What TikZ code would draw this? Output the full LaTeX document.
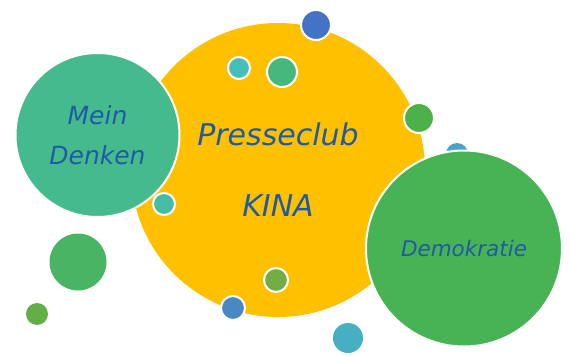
\documentclass[tikz,border=0pt]{standalone}
\usepackage{fontspec}
\newfontfamily\bubblefont{DejaVu Sans}
\usepackage{tikz}
\definecolor{kinagold}{RGB}{255,192,0}
\definecolor{denkgreen}{RGB}{69,187,141}
\definecolor{demogreen}{RGB}{72,179,84}
\definecolor{inkblue}{RGB}{31,90,168}
\definecolor{dotcyan}{RGB}{70,190,185}
\definecolor{dotteal}{RGB}{70,188,165}
\definecolor{dotgreen}{RGB}{70,184,125}
\definecolor{dotblue}{RGB}{68,114,196}
\definecolor{dotleaf}{RGB}{78,176,72}
\definecolor{dotsky}{RGB}{75,163,200}
\definecolor{dotfern}{RGB}{72,180,100}
\definecolor{dotlime}{RGB}{99,174,71}
\definecolor{dotolive}{RGB}{114,173,71}
\definecolor{dotsteel}{RGB}{74,136,196}
\definecolor{dotaqua}{RGB}{71,175,196}
\tikzset{
  bubble/.style={circle,draw=white,line width=2pt,inner sep=0pt,text=inkblue,align=center},
  dot/.style={circle,draw=white,line width=2pt,inner sep=0pt}
}

\begin{document}
\begin{tikzpicture}[x=1pt,y=-1pt]
\useasboundingbox (0,0) rectangle (571,356);
\node[bubble,draw=none,fill=kinagold,minimum size=294pt,font=\bubblefont\itshape\fontsize{30pt}{71pt}\selectfont] (kina) at (278,170) {Presseclub\\KINA};
\node[dot,draw=none,fill=dotsky,minimum size=22pt] (blueRight) at (457,154) {};
\node[bubble,fill=demogreen,minimum size=196pt,font=\bubblefont\itshape\fontsize{21.5pt}{26pt}\selectfont] (demo) at (464,248.5) {Demokratie};
\node[bubble,fill=denkgreen,minimum size=164pt,font=\bubblefont\itshape\fontsize{25pt}{40pt}\selectfont] (denken) at (97.5,135) {Mein\\Denken};
\node[dot,fill=dotcyan,minimum size=22pt] (cyanTop) at (239,68) {};
\node[dot,fill=dotgreen,minimum size=30pt] (greenTop) at (282,72) {};
\node[dot,fill=dotblue,minimum size=30pt] (blueTop) at (316,25) {};
\node[dot,fill=dotleaf,minimum size=30pt] (greenRight) at (419,118) {};
\node[dot,fill=dotteal,minimum size=22pt] (tealLeft) at (164,204) {};
\node[dot,draw=none,fill=dotfern,minimum size=57pt] (greenLeft) at (78,262) {};
\node[dot,draw=none,fill=dotlime,minimum size=22pt] (greenSmall) at (37,314) {};
\node[dot,fill=dotolive,minimum size=24pt] (oliveBottom) at (276,280) {};
\node[dot,fill=dotsteel,minimum size=24pt] (blueBottom) at (233,308) {};
\node[dot,draw=none,fill=dotaqua,minimum size=30pt] (cyanBottom) at (348,338) {};
\end{tikzpicture}
\end{document}
